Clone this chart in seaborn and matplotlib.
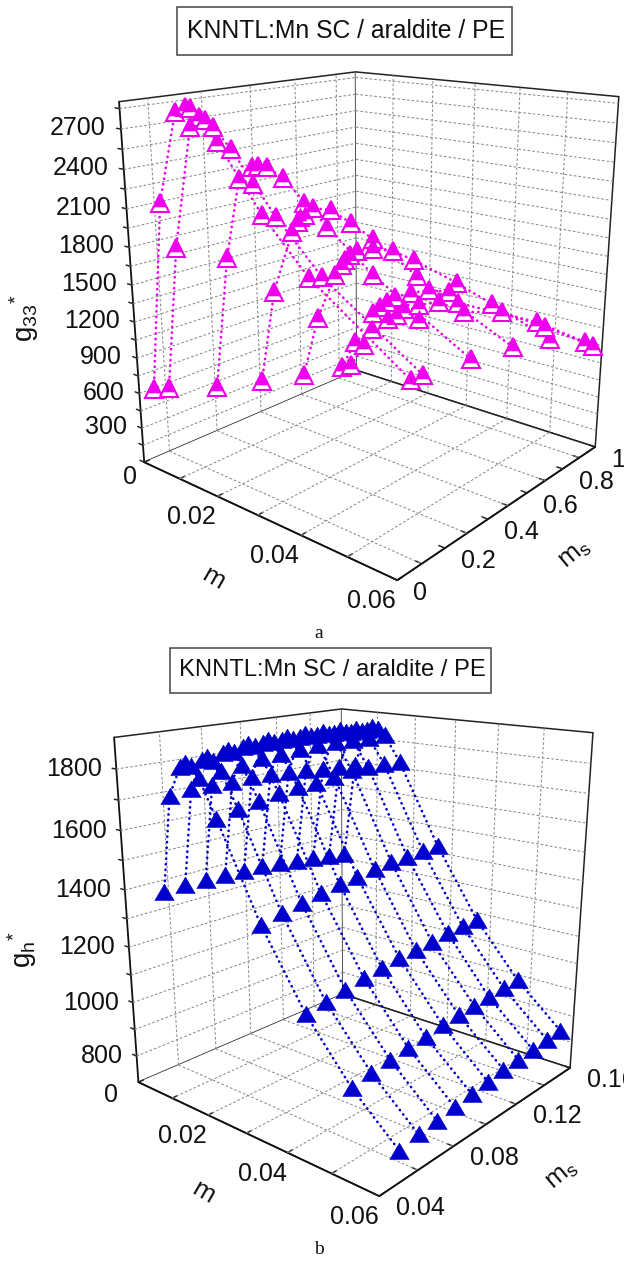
import numpy as np
import matplotlib
matplotlib.use("Agg")
import matplotlib.pyplot as plt
import seaborn as sns
from mpl_toolkits.mplot3d import proj3d

# chart a: g33* against m (x1000), one curve per ms
ms_a = [0.05, 0.1, 0.3, 0.5, 0.7, 0.9, 0.95]
m_a = [
    [0.4, 5.4, 10.6, 13.2, 14.4, 16.5, 20.5, 30.2, 40.0, 59.8],
    [1.0, 5.3, 10.6, 14.4, 16.3, 20.4, 30.2, 39.9, 59.7],
    [0.6, 5.0, 9.0, 12.6, 12.5, 14.0, 16.2, 20.0, 30.1, 40.1, 59.8],
    [0.6, 4.8, 10.1, 11.7, 12.2, 13.5, 13.3, 15.6, 20.1, 24.8, 30.0, 39.8, 59.7],
    [0.8, 5.1, 10.0, 11.9, 12.7, 14.0, 15.8, 19.9, 24.8, 29.8, 39.7, 47.4, 59.5],
    [0.9, 4.7, 9.5, 9.8, 11.7, 13.6, 15.7, 19.8, 24.4, 29.3, 31.5, 49.6, 59.7],
    [0.9, 4.7, 11.4, 13.8, 15.7, 19.7, 19.6, 24.7, 30.9, 39.9, 49.5, 59.7],
]
g33 = [
    [602, 2156, 2854, 2899, 2897, 2843, 2687, 2236, 1873, 1375],
    [576, 1781, 2731, 2798, 2757, 2620, 2198, 1849, 1367],
    [413, 1586, 2257, 2238, 2370, 2386, 2391, 2329, 2025, 1745, 1322],
    [304, 1171, 1737, 1833, 1879, 1904, 2003, 1976, 1990, 1918, 1828, 1615, 1258],
    [203, 802, 1246, 1353, 1405, 1460, 1510, 1559, 1581, 1544, 1436, 1333, 1170],
    [125, 421, 600, 759, 836, 901, 969, 1044, 1113, 1140, 1061, 1067, 1001],
    [106, 353, 682, 745, 821, 764, 897, 973, 939, 1026, 989, 931],
]

# chart b: gh* on a grid of m and ms
ms_b = [0.05, 0.06, 0.07, 0.08, 0.09, 0.10, 0.11, 0.12, 0.13, 0.14, 0.15]
m_b = [5.0, 8.0, 11.2, 12.6, 14.2, 16.0, 20.0, 30.0, 40.0, 50.0, 60.0]
gh = [
    [1390, 1395, 1393, 1392, 1388, 1388, 1382, 1371, 1366, 1356, 1347],
    [1719, 1729, 1729, 1726, 1731, 1730, 1725, 1721, 1713, 1709, 1705],
    [1816, 1827, 1839, 1849, 1853, 1853, 1854, 1852, 1850, 1845, 1844],
    [1831, 1839, 1851, 1861, 1865, 1866, 1867, 1865, 1863, 1858, 1857],
    [1827, 1832, 1847, 1857, 1861, 1861, 1862, 1860, 1858, 1853, 1852],
    [1791, 1803, 1810, 1822, 1824, 1831, 1834, 1835, 1833, 1831, 1832],
    [1675, 1692, 1704, 1716, 1723, 1724, 1732, 1745, 1743, 1743, 1740],
    [1372, 1388, 1400, 1413, 1424, 1428, 1437, 1444, 1445, 1449, 1451],
    [1130, 1140, 1153, 1166, 1174, 1184, 1187, 1192, 1202, 1205, 1206],
    [945, 960, 970, 978, 984, 996, 1002, 1006, 1009, 1016, 1019],
    [805, 819, 826, 836, 845, 852, 861, 862, 867, 873, 876],
]

# ticks and labels
m_ticks = [0, 0.01, 0.02, 0.03, 0.04, 0.05, 0.06]
m_major = [0.02, 0.04, 0.06]
ms_ticks_a = [0, .1, .2, .3, .4, .5, .6, .7, .8, .9, 1]
ms_major_a = [0, .2, .4, .6, .8, 1]
ms_grid_a = [.1, .3, .5, .7, .9]
g_ticks_a = list(range(0, 2851, 150))
g_major_a = [300, 600, 900, 1200, 1500, 1800, 2100, 2400, 2700]
ms_ticks_b = [0.04, 0.06, 0.08, 0.10, 0.12, 0.14, 0.16]
ms_major_b = [0.04, 0.08, 0.12, 0.16]
g_ticks_b = list(range(800, 1801, 100))
g_major_b = [800, 1000, 1200, 1400, 1600, 1800]
title = "KNNTL:Mn SC / araldite / PE"

W, H = 624, 1261
magenta = "#EE00EE"
blue = "#0000CC"
dots = (0, (0.1, 2.0))

sns.set_theme(style="white")
plt.rcParams["font.family"] = ["Liberation Sans", "DejaVu Sans"]
plt.rcParams["mathtext.default"] = "regular"


def make_axes(fig, view, xlim, ylim, zlim, xticks, yticks, zticks):
    elev, azim, lf, ay, az, cx, cy, s = view
    ax = fig.add_axes([(cx - s / 2) / W, 1 - (cy + s / 2) / H, s / W, s / H], projection="3d")
    ax.patch.set_alpha(0)
    ax.computed_zorder = False
    ax.set_xlim(*xlim)
    ax.set_ylim(*ylim)
    ax.set_zlim(*zlim)
    ax.view_init(elev=elev, azim=azim)
    ax.set_proj_type("persp", focal_length=float(np.exp(lf)))
    ax.set_box_aspect((1, ay, az))
    ax.set_xticks(xticks, [""] * len(xticks))
    ax.set_yticks(yticks, [""] * len(yticks))
    ax.set_zticks(zticks, [""] * len(zticks))
    ax.zaxis._axinfo["juggled"] = (1, 2, 0)
    ax.grid(False)
    for axis in (ax.xaxis, ax.yaxis, ax.zaxis):
        axis.set_pane_color((1, 1, 1, 1))
        axis.pane.set_edgecolor("#222222")
        axis.pane.set_linewidth(1.1)
        axis.line.set_color("#111111")
        axis.line.set_linewidth(1.3)
        axis._axinfo["tick"].update(inward_factor=0, outward_factor=0.25, color="#111111",
                                    linewidth={True: 1.1, False: 1.1})
    return ax


def wall_grid(ax, xs, ys, zs):
    x0, x1 = ax.get_xlim()
    y0, y1 = ax.get_ylim()
    z0, z1 = ax.get_zlim()
    kw = dict(color="#8a8a8a", lw=0.75, ls=(0, (2.5, 2)), zorder=1)
    for x in xs:
        ax.plot([x, x], [y0, y1], [z0, z0], **kw)
        ax.plot([x, x], [y1, y1], [z0, z1], **kw)
    for y in ys:
        ax.plot([x0, x1], [y, y], [z0, z0], **kw)
        ax.plot([x0, x0], [y, y], [z0, z1], **kw)
    for z in zs:
        ax.plot([x0, x0], [y0, y1], [z, z], **kw)
        ax.plot([x0, x1], [y1, y1], [z, z], **kw)


def tick_text(ax, xs, ys, zs, labels, dx, dy, ha):
    # dx, dy in pixels from the tick's foot on the axis
    X, Y, _ = proj3d.proj_transform(np.array(xs, float), np.array(ys, float), np.array(zs, float), ax.get_proj())
    for px, py, lab in zip(X, Y, labels):
        ax.annotate(lab, (px, py), xytext=(dx * 0.72, dy * 0.72), textcoords="offset points",
                    ha=ha, va="center", fontsize=18, color="#111111", annotation_clip=False)


fig = plt.figure(figsize=(W / 100, H / 100), dpi=100, facecolor="white")

# chart a
ax1 = make_axes(fig, [17.343, -49.621, -1.075, 0.99, 1.099, 365.203, 293.795, 585.568],
                (0, 0.06), (0, 1), (0, 2900), m_ticks, ms_ticks_a, g_ticks_a)
wall_grid(ax1, m_ticks[1:-1], ms_grid_a, g_ticks_a[1:])
top_tri = [(-0.7, -0.42), (0, 1), (0.7, -0.42)]
for ms, m, g in zip(ms_a, m_a, g33):
    mm = np.array(m) / 1000
    ys = [ms] * len(m)
    ax1.plot(mm, ys, g, color=magenta, lw=1.9, ls=dots, dash_capstyle="round", zorder=3)
    ax1.plot(mm, ys, g, ls="none", marker="^", ms=13, mfc="white", mec=magenta, mew=1.5, zorder=4)
    ax1.plot(mm, ys, g, ls="none", marker=top_tri, ms=13, mfc=magenta, mec=magenta, mew=0.5, zorder=4)
tick_text(ax1, [0] * len(g_major_a), [0] * len(g_major_a), g_major_a, [str(v) for v in g_major_a], -15, 1, "right")
tick_text(ax1, [0], [0], [0], ["0"], -7, -15, "right")
tick_text(ax1, m_major, [0] * 3, [0] * 3, [str(v) for v in m_major], -2, -21, "right")
tick_text(ax1, [0.06] * len(ms_major_a), ms_major_a, [0] * len(ms_major_a), ["0", "0.2", "0.4", "0.6", "0.8", "1"], 16, -13, "left")

# chart b
ax2 = make_axes(fig, [17.425, -49.421, -1.083, 0.993, 1.1, 349.882, 921.35, 560.523],
                (0, 0.06), (0.04, 0.16), (700, 1900), m_ticks, ms_ticks_b, g_ticks_b)
wall_grid(ax2, m_ticks[1:-1], ms_ticks_b[1:-1], g_ticks_b)
flat_tri = [(-1, -0.85), (0, 0.85), (1, -0.85)]
mb = np.array(m_b) / 1000
gh = np.array(gh)
for j, ms in enumerate(ms_b):
    ys = [ms] * len(mb)
    ax2.plot(mb, ys, gh[:, j], color=blue, lw=1.9, ls=dots, dash_capstyle="round", zorder=3)
    ax2.plot(mb, ys, gh[:, j], ls="none", marker=flat_tri, ms=14, mfc=blue, mec=blue, mew=0.5, zorder=4)
tick_text(ax2, [0] * len(g_major_b), [0.04] * len(g_major_b), g_major_b, [str(v) for v in g_major_b], -14, 0, "right")
tick_text(ax2, [0], [0.04], [700], ["0"], -20, -13, "right")
tick_text(ax2, m_major, [0.04] * 3, [700] * 3, [str(v) for v in m_major], -1, -21, "right")
tick_text(ax2, [0.06] * len(ms_major_b), ms_major_b, [700] * len(ms_major_b), ["0.04", "0.08", "0.12", "0.16"], 17, -12, "left")


def fig_text(x, y, s, **kw):
    return fig.text(x / W, 1 - y / H, s, color="#111111", ha="center", va="center", **kw)


def title_box(x0, y0, x1, y1, size):
    fig.add_artist(plt.Rectangle((x0 / W, 1 - y1 / H), (x1 - x0) / W, (y1 - y0) / H, transform=fig.transFigure,
                                 fc="white", ec="#444444", lw=1.1))
    fig_text((x0 + x1) / 2 + 2, (y0 + y1) / 2, title, fontsize=size)


title_box(177, 7, 512, 55, 17.8)
title_box(170, 648, 491, 693, 17.1)
fig_text(24, 318, r"g$_{33}$$^{*}$", fontsize=20, rotation=90)
fig_text(22, 950, r"g$_{h}$$^{*}$", fontsize=20, rotation=90)
fig_text(213, 578, "m", fontsize=19, rotation=-30)
fig_text(203, 1192, "m", fontsize=19, rotation=-30)
fig_text(575, 554, r"m$_{s}$", fontsize=19, rotation=40)
fig_text(562, 1175, r"m$_{s}$", fontsize=19, rotation=40)
fig_text(319, 633, "a", fontsize=14, family="Liberation Serif")
fig_text(319, 1249, "b", fontsize=14, family="Liberation Serif")

fig.savefig("out.png", dpi=100)
